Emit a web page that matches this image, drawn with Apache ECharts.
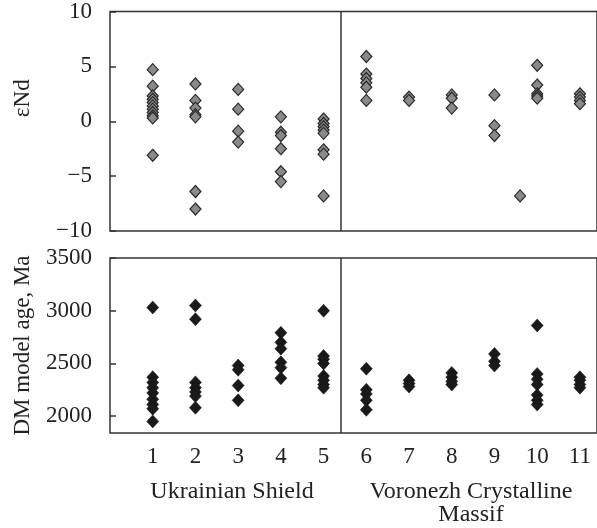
<!DOCTYPE html>
<html>
<head>
<meta charset="utf-8">
<script src="https://cdn.jsdelivr.net/npm/echarts@6/dist/echarts.min.js"></script>
<style>
html,body{margin:0;padding:0;background:#fff;}
#c{width:597px;height:528px;}
</style>
</head>
<body>
<div id="c"></div>
<script>
// Sample numbers (x categories)
const sampleNumbers = [1, 2, 3, 4, 5, 6, 7, 8, 9, 10, 11];
const groupLabels = ['Ukrainian Shield', 'Voronezh Crystalline\nMassif'];
const dividerX = 5.4;

// εNd values per sample number
const epsNd = [
  [4.7, 3.2, 2.3, 2.0, 1.7, 1.4, 1.1, 0.8, 0.5, 0.3, -3.1],
  [3.4, 1.9, 1.2, 0.6, 0.4, -6.4, -8.0],
  [2.9, 1.1, -0.9, -1.9],
  [0.4, -1.0, -1.3, -2.5, -4.6, -5.5],
  [0.2, -0.2, -0.5, -0.8, -1.1, -2.6, -3.0, -6.8],
  [5.9, 4.3, 3.9, 3.5, 3.1, 1.9],
  [2.2, 1.9],
  [2.4, 2.1, 1.2],
  [2.4, -0.4, -1.3],
  [5.1, 3.3, 2.5, 2.3, 2.1],
  [2.5, 2.2, 1.9, 1.6]
];
// one εNd point plotted between columns 9 and 10
const epsNdBetweenX = [9.6];
const epsNdBetweenY = [-6.8];

// DM model ages (Ma) per sample number
const dmAge = [
  [3030, 2370, 2320, 2270, 2220, 2160, 2110, 2070, 1950],
  [3050, 2920, 2320, 2270, 2230, 2190, 2080],
  [2480, 2440, 2290, 2150],
  [2790, 2700, 2640, 2510, 2460, 2360],
  [3000, 2570, 2540, 2500, 2380, 2340, 2300, 2270],
  [2450, 2250, 2210, 2150, 2060],
  [2340, 2310, 2280],
  [2410, 2370, 2330, 2300],
  [2590, 2520, 2480],
  [2860, 2400, 2350, 2300, 2200, 2150, 2110],
  [2370, 2340, 2300, 2270]
];
const ageTicks = [2000, 2500, 3000, 3500];

const epsData = [];
epsNd.forEach((vals, i) => vals.forEach(v => epsData.push([sampleNumbers[i], v])));
epsNdBetweenX.forEach((x, i) => epsData.push([x, epsNdBetweenY[i]]));
const ageData = [];
dmAge.forEach((vals, i) => vals.forEach(v => ageData.push([sampleNumbers[i], v])));

const FONT = '"Liberation Serif", "Times New Roman", serif';
const INK = '#333';

const chart = echarts.init(document.getElementById('c'));
const xBase = {
  type: 'value', min: 0, max: 11.4,
  axisLine: {show: false}, axisTick: {show: false}, splitLine: {show: false}
};
const divider = {
  silent: true, symbol: 'none',
  label: {show: false},
  lineStyle: {color: INK, width: 1.5, type: 'solid'},
  data: [{xAxis: dividerX}]
};
chart.setOption({
  animation: false,
  backgroundColor: '#fff',
  grid: [
    {left: 110, top: 11, right: -4, height: 220, show: true, borderColor: INK, borderWidth: 1.5},
    {left: 110, top: 258, right: -4, height: 175, show: true, borderColor: INK, borderWidth: 1.5}
  ],
  xAxis: [
    Object.assign({gridIndex: 0, axisLabel: {show: false}}, xBase),
    Object.assign({gridIndex: 1, axisLabel: {
      show: true, customValues: sampleNumbers, margin: 12,
      fontFamily: FONT, fontSize: 23, color: '#222'
    }}, xBase)
  ],
  yAxis: [
    {
      gridIndex: 0, type: 'value', min: -10, max: 10, interval: 5,
      axisLine: {show: false}, splitLine: {show: false},
      axisTick: {show: true, inside: true, length: 6, lineStyle: {color: INK, width: 1.5}},
      axisLabel: {margin: 18, fontFamily: FONT, fontSize: 23, color: '#222',
        formatter: v => String(v).replace('-', '\u2212')},
      name: 'εNd', nameLocation: 'middle', nameGap: 76,
      nameTextStyle: {fontFamily: FONT, fontSize: 23, color: '#222', padding: [0, 0, 0, 46]}
    },
    {
      gridIndex: 1, type: 'value', min: 1840, max: 3500,
      axisLine: {show: false}, splitLine: {show: false},
      axisTick: {show: true, inside: true, length: 6, customValues: ageTicks, lineStyle: {color: INK, width: 1.5}},
      axisLabel: {margin: 18, fontFamily: FONT, fontSize: 23, color: '#222', customValues: ageTicks,
        formatter: v => String(v)},
      name: 'DM model age, Ma', nameLocation: 'middle', nameGap: 76,
      nameTextStyle: {fontFamily: FONT, fontSize: 23, color: '#222'}
    }
  ],
  graphic: [
    {type: 'text', x: 232, y: 492, style: {text: groupLabels[0], font: '24px ' + FONT, fill: '#222', textAlign: 'center', textVerticalAlign: 'middle'}},
    {type: 'text', x: 471, y: 503, style: {text: groupLabels[1], font: '24px ' + FONT, fill: '#222', textAlign: 'center', textVerticalAlign: 'middle', lineHeight: 23}}
  ],
  series: [
    {
      type: 'scatter', xAxisIndex: 0, yAxisIndex: 0, data: epsData,
      symbol: 'diamond', symbolSize: [11, 12],
      itemStyle: {color: '#8a8a8a', borderColor: '#2a2a2a', borderWidth: 1.2, opacity: 1},
      markLine: divider
    },
    {
      type: 'scatter', xAxisIndex: 1, yAxisIndex: 1, data: ageData,
      symbol: 'diamond', symbolSize: [12, 13],
      itemStyle: {color: '#1a1a1a', borderColor: '#111', borderWidth: 0.5, opacity: 1},
      markLine: divider
    }
  ]
});
</script>
</body>
</html>
